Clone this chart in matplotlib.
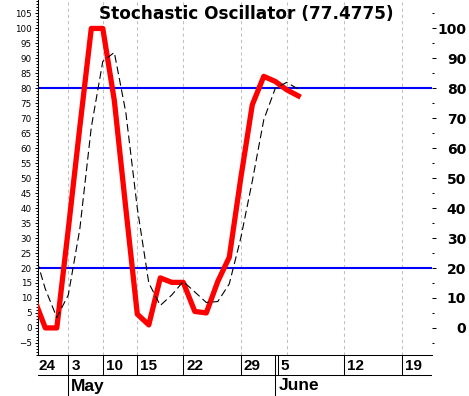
import numpy as np
import matplotlib
matplotlib.use('Agg')
import matplotlib.pyplot as plt
from matplotlib.ticker import FixedLocator, MultipleLocator
from matplotlib import transforms as mtransforms

# ---- data ----
period = list(range(-1, 23))
pct_k = [10, 0, 0, 33, 67, 100, 100, 76, 40, 4.6, 1, 16.7, 15.2, 15.2, 5.5, 5.0,
         15.5, 23.6, 50, 74.5, 84, 82.3, 79.5, 77.4775]
pct_d = [26, 13, 3.5, 11, 33, 67, 89, 92, 72, 40, 15, 7.5, 11, 15.5, 12, 8.5,
         8.8, 14.7, 30, 49, 69.5, 80, 82, 79.7]
upper_level = 80
lower_level = 20
last_value = 77.4775
date_labels = ['24', '3', '10', '15', '22', '29', '5', '12', '19']
date_pos = [-0.85, 2, 5, 8, 12, 17, 20.2, 26, 31]
grid_pos = [2, 5, 8, 12, 17, 21, 26, 31]
month_labels = ['May', 'June']
month_pos = [2, 20]
left_ticks = list(range(-5, 106, 5))
right_ticks = list(range(0, 101, 10))
right_minor = list(range(-5, 106, 10))

W, H = 469, 396
fig = plt.figure(figsize=(W / 100, H / 100), dpi=100)
ax = fig.add_axes([38 / W, 41 / H, 394 / W, 355 / H])
xlim = (-0.635, 33.63)
ylim = (-9.05, 109.5)
ax.set_xlim(*xlim)
ax.set_ylim(*ylim)

for g in grid_pos:
    ax.axvline(g, color='#c0c0c0', lw=0.75, linestyle=(0, (3, 3)), zorder=1)
for lvl in (upper_level, lower_level):
    ax.axhline(lvl, color='#0000ff', lw=1.5, zorder=2)

ax.plot(period, pct_k, color='#ff0000', lw=3.8, zorder=3, solid_joinstyle='round')
ax.plot(period, pct_d, color='black', lw=0.8, dashes=(7, 3.5), zorder=4)

for s in ('top', 'right'):
    ax.spines[s].set_visible(False)
ax.spines['left'].set_linewidth(0.75)
ax.spines['bottom'].set_linewidth(0.75)

ax.set_xticks([])
ax.yaxis.set_major_locator(FixedLocator(left_ticks))
ax.yaxis.set_minor_locator(MultipleLocator(1))
ax.tick_params(axis='y', which='major', length=2.2, width=0.75, pad=2.2, labelsize=6.3)
ax.tick_params(axis='y', which='minor', length=1.2, width=0.75)

ax2 = ax.twinx()
ax2.set_ylim(*ylim)
for s in ax2.spines.values():
    s.set_visible(False)
ax2.yaxis.set_major_locator(FixedLocator(right_ticks))
ax2.yaxis.set_minor_locator(FixedLocator(right_minor))
ax2.set_yticklabels([str(v) for v in right_ticks], fontfamily='DejaVu Sans',
                    fontweight='bold', fontsize=10)
ax2.tick_params(axis='y', which='major', length=2.9, width=0.75, pad=21.6)
ax2.tick_params(axis='y', which='minor', length=1.5, width=0.75)
for lab in ax2.get_yticklabels():
    lab.set_horizontalalignment('right')

# ---- date table under the plot ----
row1_bot = -20.3 / 355
row2_bot = -41.5 / 355
trans = mtransforms.blended_transform_factory(ax.transData, ax.transAxes)
lk = dict(color='black', lw=0.75, clip_on=False)
ax.plot([0, 0.9975], [row1_bot, row1_bot], transform=ax.transAxes, **lk)
for p in date_pos:
    if p > xlim[0]:
        ax.plot([p, p], [0, row1_bot], transform=trans, **lk)
for p in month_pos:
    ax.plot([p, p], [0, row2_bot], transform=trans, **lk)

off = mtransforms.offset_copy(trans, fig=fig, x=3, y=0, units='dots')
for p, lab in zip(date_pos, date_labels):
    ax.text(p, -15.3 / 355, lab, transform=off, ha='left', va='baseline',
            fontfamily='Liberation Sans', fontweight='bold', fontsize=11)
for p, lab in zip(month_pos, month_labels):
    ax.text(p, -35.5 / 355, lab, transform=off, ha='left', va='baseline',
            fontfamily='Liberation Sans', fontweight='bold', fontsize=12.5)

fig.text(246.7 / W, 1 - 19 / H, f'Stochastic Oscillator ({last_value})',
         ha='center', va='baseline', fontfamily='DejaVu Sans', fontweight='bold',
         fontsize=12.2)

fig.savefig('out.png', dpi=100)
